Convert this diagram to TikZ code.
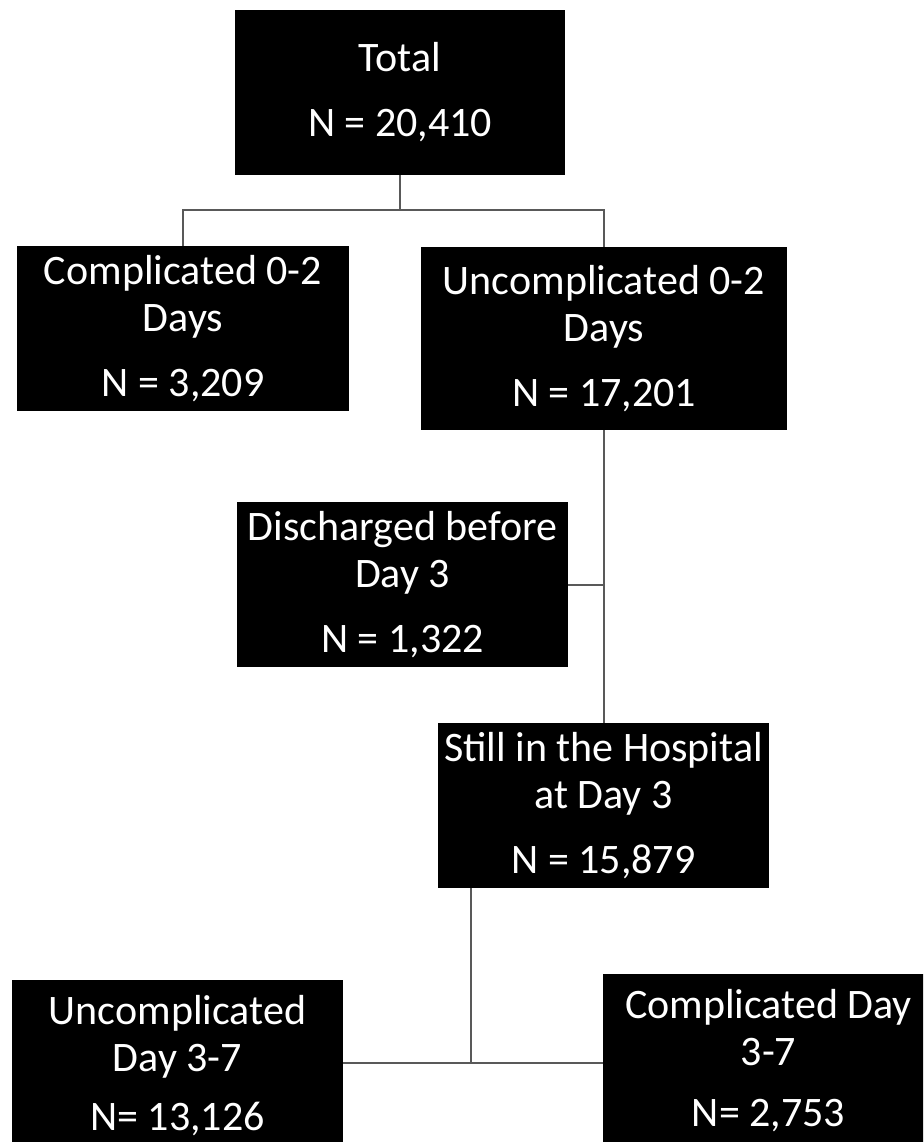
\documentclass[tikz,border=0pt]{standalone}
\usepackage{fontspec}
\setmainfont{Carlito}
\begin{document}
\begin{tikzpicture}[x=1pt,y=-1pt,
  box/.style={draw=none,fill=black,text=white,align=center,inner sep=0pt,
    font=\fontsize{42}{47}\selectfont},
  link/.style={draw=black!65,line width=2pt}]
\useasboundingbox (0,0) rectangle (923,1142);
\clip (0,0) rectangle (923,1142);
\node[box,minimum width=330,minimum height=165] (total) at (400,92.5) {Total\\[18pt]N = 20,410};
\node[box,minimum width=332,minimum height=165] (comp02) at (183,328.5) {Complicated 0-2\\Days\\[18pt]N = 3,209};
\node[box,minimum width=366,minimum height=183] (unc02) at (604,338.5) {Uncomplicated 0-2\\Days\\[18pt]N = 17,201};
\node[box,minimum width=331,minimum height=165] (disch) at (402.5,584.5) {Discharged before\\Day 3\\[18pt]N = 1,322};
\node[box,minimum width=331,minimum height=165] (still) at (603.5,805.5) {Still in the Hospital\\at Day 3\\[18pt]N = 15,879};
\node[box,minimum width=331,minimum height=173] (unc37) at (177.5,1066) {Uncomplicated\\Day 3-7\\[12pt]N= 13,126};
\node[box,minimum width=331,minimum height=175] (comp37) at (768.5,1061) {Complicated Day\\3-7\\[14pt]N= 2,753};
\coordinate (split) at (400,210);
\coordinate (j) at (471,1063);
\draw[link] (total.south) -- (split);
\draw[link] (comp02.north) |- (split) -| (unc02.north);
\draw[link] (unc02.south) -- (unc02.south |- still.north);
\draw[link] (disch.east) -- (disch.east -| unc02.south);
\draw[link] (still.south -| j) -- (j);
\draw[link] (j -| unc37.east) -- (j -| comp37.west);
\end{tikzpicture}
\end{document}
